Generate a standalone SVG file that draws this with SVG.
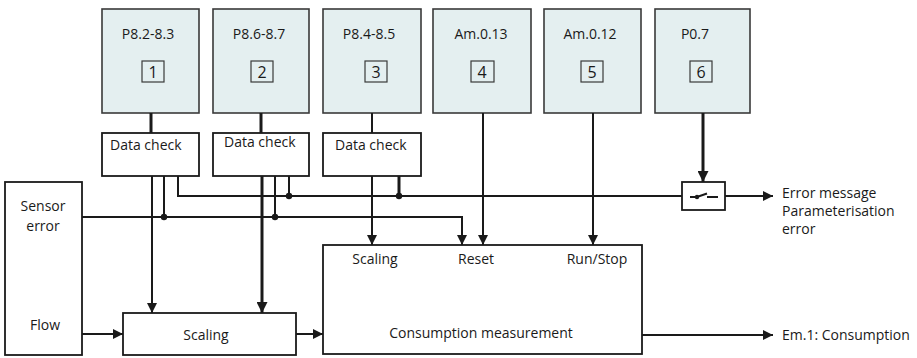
<svg xmlns="http://www.w3.org/2000/svg" width="917" height="358" viewBox="0 0 917 358">
<defs>
<marker id="ah" viewBox="0 0 10 10" refX="10" refY="5" markerWidth="10" markerHeight="10" markerUnits="userSpaceOnUse" orient="auto"><path d="M0,0 L10,5 L0,10 z" fill="#1a1a1a"/></marker>
<marker id="ahb" viewBox="0 0 10 10" refX="10" refY="5" markerWidth="11" markerHeight="11" markerUnits="userSpaceOnUse" orient="auto"><path d="M0,0 L10,5 L0,10 z" fill="#1a1a1a"/></marker>
</defs>
<style>
text{font-family:"Open Sans","Liberation Sans",sans-serif;font-size:14px;fill:#1a1a1a}
.n{font-size:16px}
.par{fill:#e4eff0;stroke:#3a3a3a;stroke-width:1.6}
.num{fill:none;stroke:#3a3a3a;stroke-width:1.2}
.blk{fill:#fff;stroke:#1a1a1a;stroke-width:1.8}
.ln{fill:none;stroke:#1a1a1a;stroke-width:2}
.th{fill:none;stroke:#1a1a1a;stroke-width:3}
.c{text-anchor:middle}
</style>
<rect width="917" height="358" fill="#fff"/>

<g id="p1"><rect class="par" x="102" y="9" width="97" height="104"/><text x="148" y="39" class="c">P8.2-8.3</text><rect class="num" x="142" y="61" width="22" height="21"/><text x="153" y="78" class="c n">1</text></g>
<g id="p2"><rect class="par" x="213" y="9" width="96" height="104"/><text x="259" y="39" class="c">P8.6-8.7</text><rect class="num" x="251" y="61" width="22" height="21"/><text x="262" y="78" class="c n">2</text></g>
<g id="p3"><rect class="par" x="323" y="9" width="98" height="104"/><text x="369" y="39" class="c">P8.4-8.5</text><rect class="num" x="365" y="61" width="22" height="21"/><text x="376" y="78" class="c n">3</text></g>
<g id="p4"><rect class="par" x="433" y="9" width="98" height="104"/><text x="481" y="39" class="c">Am.0.13</text><rect class="num" x="471" y="61" width="23" height="21"/><text x="482" y="78" class="c n">4</text></g>
<g id="p5"><rect class="par" x="544" y="9" width="97" height="104"/><text x="590" y="39" class="c">Am.0.12</text><rect class="num" x="581" y="61" width="22" height="21"/><text x="592" y="78" class="c n">5</text></g>
<g id="p6"><rect class="par" x="655" y="9" width="95" height="104"/><text x="695" y="39" class="c">P0.7</text><rect class="num" x="690" y="61" width="22" height="21"/><text x="701" y="78" class="c n">6</text></g>

<g id="dc1"><rect class="blk" x="102" y="133" width="97" height="43"/><text x="110" y="150">Data check</text></g>
<g id="dc2"><rect class="blk" x="213" y="133" width="96" height="43"/><text x="224" y="147">Data check</text></g>
<g id="dc3"><rect class="blk" x="323" y="133" width="98" height="43"/><text x="335" y="150">Data check</text></g>

<g id="sensor"><rect class="blk" x="5" y="182" width="77" height="173"/><text x="43" y="211" class="c">Sensor</text><text x="43" y="231" class="c">error</text><text x="45" y="330" class="c">Flow</text></g>
<g id="scaling"><rect class="blk" x="123" y="313" width="173" height="42"/><text x="206" y="340" class="c">Scaling</text></g>
<g id="consumption"><rect class="blk" x="323" y="245" width="319" height="109"/><text x="375" y="264" class="c">Scaling</text><text x="476" y="264" class="c">Reset</text><text x="597" y="264" class="c">Run/Stop</text><text x="481" y="338" class="c">Consumption measurement</text></g>
<g id="switch"><rect class="blk" x="682" y="182" width="43" height="28"/><path class="ln" d="M690,197 H697 L707,193.5 M707,197 H718" stroke-width="1.6"/><circle cx="697" cy="197" r="2.2" fill="#1a1a1a"/></g>

<g id="outputs"><text x="782" y="198">Error message</text><text x="782" y="216">Parameterisation</text><text x="782" y="234">error</text><text x="782" y="340">Em.1: Consumption</text></g>

<g id="connectors">
<line class="th" x1="151" y1="113" x2="151" y2="133"/>
<line class="th" x1="261" y1="113" x2="261" y2="133"/>
<line class="ln" x1="372" y1="113" x2="372" y2="133"/>
<line class="ln" x1="152" y1="176" x2="152" y2="313" marker-end="url(#ah)"/>
<line class="ln" x1="164" y1="176" x2="164" y2="217"/>
<path class="ln" d="M178,176 V196 H682"/>
<line class="th" x1="262" y1="176" x2="262" y2="313" marker-end="url(#ahb)"/>
<line class="ln" x1="275" y1="176" x2="275" y2="217"/>
<line class="ln" x1="289" y1="176" x2="289" y2="196"/>
<line class="ln" x1="372" y1="176" x2="372" y2="245" marker-end="url(#ah)"/>
<line class="th" x1="399" y1="176" x2="399" y2="196"/>
<path class="ln" d="M82,217 H462 V245" marker-end="url(#ah)"/>
<line class="ln" x1="483" y1="113" x2="483" y2="245" marker-end="url(#ah)"/>
<line class="ln" x1="593" y1="113" x2="593" y2="245" marker-end="url(#ah)"/>
<line class="th" x1="703" y1="113" x2="703" y2="182" marker-end="url(#ahb)"/>
<line class="ln" x1="725" y1="196" x2="773" y2="196" marker-end="url(#ah)"/>
<line class="ln" x1="82" y1="334" x2="123" y2="334" marker-end="url(#ah)"/>
<line class="ln" x1="296" y1="334" x2="323" y2="334" marker-end="url(#ah)"/>
<line class="ln" x1="642" y1="335" x2="773" y2="335" marker-end="url(#ah)"/>
<circle cx="164" cy="217" r="3.2" fill="#1a1a1a"/>
<circle cx="275" cy="217" r="3.2" fill="#1a1a1a"/>
<circle cx="289" cy="196" r="3.2" fill="#1a1a1a"/>
<circle cx="399" cy="196" r="3.2" fill="#1a1a1a"/>
</g>
</svg>
